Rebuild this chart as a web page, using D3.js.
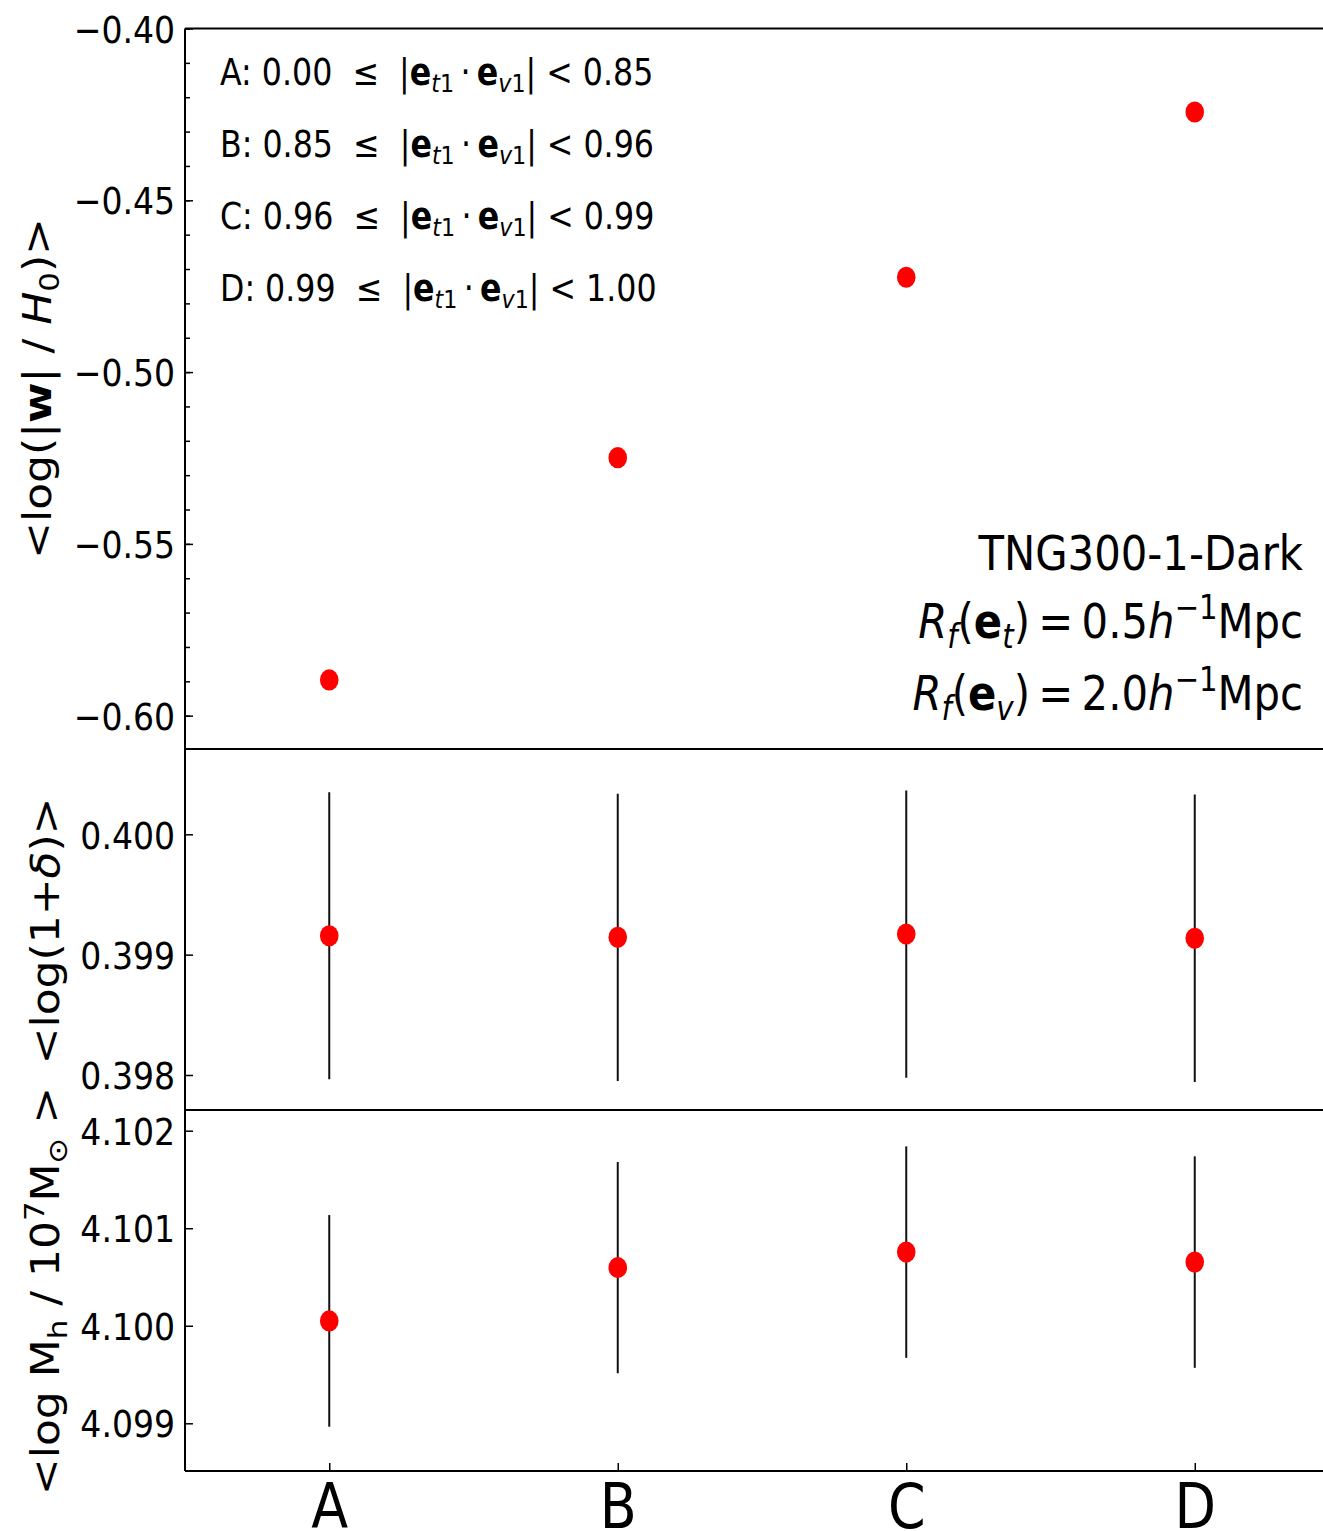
<!DOCTYPE html>
<html>
<head>
<meta charset="utf-8">
<title></title>
<style>
  body { margin: 0; background: #fff; }
  svg text { font-family: "DejaVu Sans", sans-serif; fill: #000; }
</style>
</head>
<body>
<div id="chart"></div>
<script src="https://cdnjs.cloudflare.com/ajax/libs/d3/7.8.5/d3.min.js"></script>
<script>
// data
var cats = ["A", "B", "C", "D"];
var wVals = [-0.5896, -0.5249, -0.4724, -0.4243];
var deltaVals = [0.399157, 0.399144, 0.399171, 0.399136];
var deltaErr = [0.001192, 0.001194, 0.001193, 0.001194];
var massVals = [4.100050, 4.100596, 4.100755, 4.100653];
var massErr = [0.001085, 0.001083, 0.001084, 0.001084];
var wTicks = [-0.60, -0.55, -0.50, -0.45, -0.40];
var deltaTicks = [0.398, 0.399, 0.400];
var massTicks = [4.099, 4.100, 4.101, 4.102];
var binLabels = [
    ["A", "0.00", "0.85"],
    ["B", "0.85", "0.96"],
    ["C", "0.96", "0.99"],
    ["D", "0.99", "1.00"]
];

var W = 1323, H = 1531;
var sx = 0.87;   // the picture is a little squeezed sideways

var svg = d3.select("#chart").append("svg")
    .attr("width", W)
    .attr("height", H);

var x = d3.scaleLinear().domain([-0.5, 3.5]).range([185, 1339]);

var panels = [
    { y: d3.scaleLinear().domain([-0.6097, -0.40]).range([749, 28.5]),
      vals: wVals, err: null, ticks: wTicks, fmt: d3.format(".2f"), minor: d3.range(-0.60, -0.399, 0.01) },
    { y: d3.scaleLinear().domain([0.397709, 0.400709]).range([1110, 749]),
      vals: deltaVals, err: deltaErr, ticks: deltaTicks, fmt: d3.format(".3f"), minor: null },
    { y: d3.scaleLinear().domain([4.098511, 4.102212]).range([1471, 1110]),
      vals: massVals, err: massErr, ticks: massTicks, fmt: d3.format(".3f"), minor: null }
];

// mathtext-ish helper
function rich(textSel, parts, fs) {
    var shift = 0;
    parts.forEach(function(p) {
        var target = p.sub ? 0.2 * fs : p.sup ? -0.4 * fs : 0;
        var ts = textSel.append("tspan").attr("dy", target - shift).text(p.t);
        shift = target;
        if (p.sub || p.sup) ts.attr("font-size", fs * 0.7);
        if (p.b) ts.attr("font-weight", "bold");
        if (p.i) ts.attr("font-style", "italic");
    });
}

panels.forEach(function(p, k) {
    var g = svg.append("g");
    var yr = p.y.range();

    // minor ticks
    if (p.minor) {
        g.append("g")
            .attr("transform", "translate(185,0)")
            .call(d3.axisLeft(p.y).tickValues(p.minor).tickSize(-5).tickFormat(""))
            .call(function(a) { a.select(".domain").remove(); })
            .selectAll("line").attr("stroke-width", 1.5);
    }

    var ax = g.append("g")
        .attr("transform", "translate(185,0)")
        .call(d3.axisLeft(p.y).tickValues(p.ticks).tickSize(-8).tickPadding(11.5).tickFormat(p.fmt));
    ax.select(".domain").remove();
    ax.selectAll("line").attr("stroke-width", 1.5);
    ax.selectAll("text")
        .attr("font-size", 38)
        .attr("dy", "0.36em")
        .attr("transform", "scale(" + sx + ",1)");

    // error bars
    if (p.err) {
        g.selectAll(".eb").data(p.vals).enter().append("line")
            .attr("x1", function(d, i) { return x(i); })
            .attr("x2", function(d, i) { return x(i); })
            .attr("y1", function(d, i) { return p.y(d - p.err[i]); })
            .attr("y2", function(d, i) { return p.y(d + p.err[i]); })
            .attr("stroke", "#111")
            .attr("stroke-width", 2);
    }

    g.selectAll(".pt").data(p.vals).enter().append("ellipse")
        .attr("cx", function(d, i) { return x(i); })
        .attr("cy", function(d) { return p.y(d); })
        .attr("rx", 9.3)
        .attr("ry", 10.6)
        .attr("fill", "#ff0000");

    // frame lines
    g.append("line").attr("x1", 185).attr("x2", 1339)
        .attr("y1", yr[0]).attr("y2", yr[0])
        .attr("stroke", "#000").attr("stroke-width", 2);
    if (k === 0) {
        g.append("line").attr("x1", 185).attr("x2", 1339)
            .attr("y1", yr[1]).attr("y2", yr[1])
            .attr("stroke", "#000").attr("stroke-width", 2);
    }
});

svg.append("line").attr("x1", 185).attr("x2", 185)
    .attr("y1", 28.5).attr("y2", 1471)
    .attr("stroke", "#000").attr("stroke-width", 2);

// x axis on bottom panel
var xa = svg.append("g")
    .attr("transform", "translate(0,1471)")
    .call(d3.axisBottom(x).tickValues([0, 1, 2, 3]).tickSize(-8).tickFormat(function(d) { return cats[d]; }));
xa.select(".domain").remove();
xa.selectAll("line").attr("stroke-width", 1.5);
xa.selectAll("text")
    .attr("font-size", 62)
    .attr("y", 0)
    .attr("dy", 0)
    .attr("transform", "translate(0,57) scale(" + sx + ",1)");

// y labels
var yLabels = [
    { cx: 51, cy: 388.5, parts: [{t: "<log(|"}, {t: "w", b: 1}, {t: "| / "}, {t: "H", i: 1}, {t: "0", sub: 1}, {t: ")>"}] },
    { cx: 59, cy: 931, parts: [{t: "<log(1+"}, {t: "δ", i: 1}, {t: ")>"}] },
    { cx: 59, cy: 1291, parts: [{t: "<log M"}, {t: "h", sub: 1}, {t: " / 10"}, {t: "7", sup: 1}, {t: "M"}, {t: "⊙", sub: 1}, {t: " >"}] }
];
yLabels.forEach(function(l) {
    var t = svg.append("text")
        .attr("font-size", 44)
        .attr("text-anchor", "middle")
        .attr("transform", "translate(" + l.cx + "," + l.cy + ") scale(" + sx + ",1) rotate(-90)");
    rich(t, l.parts, 44);
});

// bin legend
var legY = [85, 157, 229, 301];
binLabels.forEach(function(b, i) {
    var t = svg.append("text")
        .attr("font-size", 36.4)
        .attr("transform", "translate(220," + legY[i] + ") scale(" + sx + ",1)");
    rich(t, [
        {t: b[0] + ": " + b[1] + "\u00a0\u00a0≤\u00a0\u00a0|"},
        {t: "e", b: 1},
        {t: "t", sub: 1, i: 1}, {t: "1", sub: 1},
        {t: "\u2009·\u2009"},
        {t: "e", b: 1},
        {t: "v", sub: 1, i: 1}, {t: "1", sub: 1},
        {t: "| < " + b[2]}
    ], 36.4);
});

// annotation
var annY = [570, 638, 710];
var ann = [
    [{t: "TNG300-1-Dark"}],
    [{t: "R", i: 1}, {t: "f", sub: 1, i: 1}, {t: "("}, {t: "e", b: 1}, {t: "t", sub: 1, i: 1}, {t: ")\u2009=\u20090.5"}, {t: "h", i: 1}, {t: "−1", sup: 1}, {t: "Mpc"}],
    [{t: "R", i: 1}, {t: "f", sub: 1, i: 1}, {t: "("}, {t: "e", b: 1}, {t: "v", sub: 1, i: 1}, {t: ")\u2009=\u20092.0"}, {t: "h", i: 1}, {t: "−1", sup: 1}, {t: "Mpc"}]
];
ann.forEach(function(parts, i) {
    var t = svg.append("text")
        .attr("font-size", 48)
        .attr("text-anchor", "end")
        .attr("transform", "translate(1303," + annY[i] + ") scale(" + sx + ",1)");
    rich(t, parts, 48);
});
</script>
</body>
</html>
